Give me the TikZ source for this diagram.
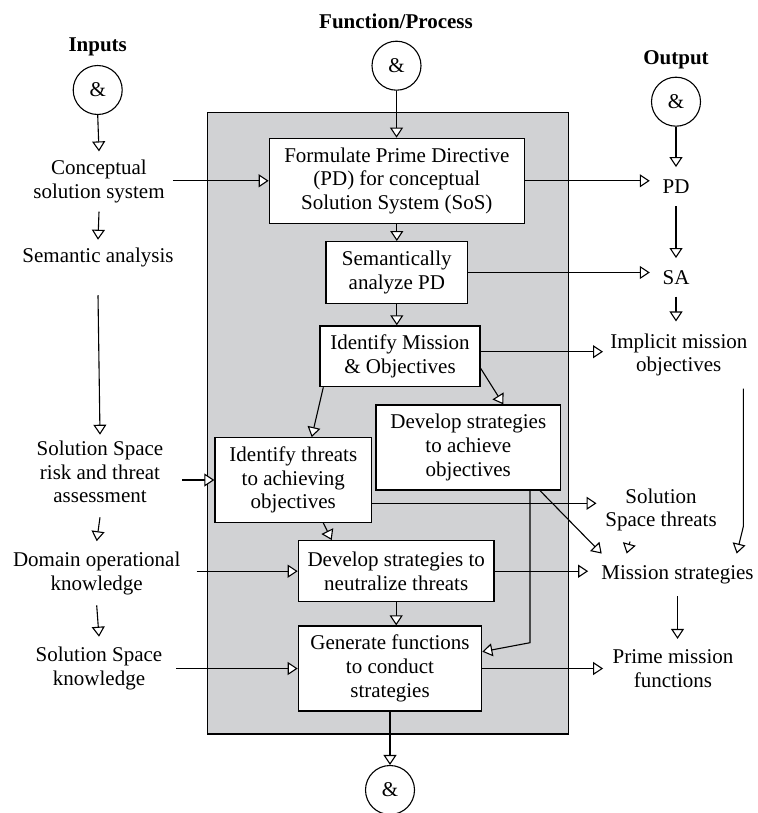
\documentclass[tikz,border=0pt]{standalone}
\usepackage{fontspec}
\setmainfont{Liberation Serif}
\usetikzlibrary{arrows.meta}
\definecolor{panelgray}{RGB}{209,210,212}
\begin{document}
\begin{tikzpicture}[x=1pt,y=-1pt,
  every node/.style={font=\fontsize{21}{23.7}\selectfont, inner sep=0pt},
  lbl/.style={align=center},
  hdr/.style={font=\fontsize{21}{23.7}\selectfont\bfseries},
  andc/.style={circle, draw, line width=1.1pt, minimum size=49pt, inner sep=0pt},
  box/.style={draw, fill=white, line width=1.3pt, align=center, inner sep=0pt},
  arr/.style={line width=1.1pt, -{Triangle[fill=white, length=10pt, width=13pt]}},
  ln/.style={line width=1.1pt},
]
\useasboundingbox (0,0) rectangle (757,813);

% panel
\node[draw, fill=panelgray, line width=1.3pt, minimum width=361pt, minimum height=621.3pt] (panel) at (387.8,423.35) {};

% headers and circles
\node[hdr] (hin) at (97.7,46.7) {Inputs};
\node[hdr] (hfp) at (396,21.7) {Function/Process};
\node[hdr] (hout) at (676,59.3) {Output};
\node[andc] (cin) at (97.7,90) {\&};
\node[andc] (cfp) at (396.5,65.7) {\&};
\node[andc] (cout) at (676,101.7) {\&};
\node[andc] (cbot) at (390,790) {\&};

% process boxes
\node[box, minimum width=255pt, minimum height=85pt] (form) at (396.8,180.8) {Formulate Prime Directive\\(PD) for conceptual\\Solution System (SoS)};
\node[box, minimum width=141.7pt, minimum height=61.6pt] (sema) at (396.8,272.5) {Semantically\\analyze PD};
\node[box, minimum width=160pt, minimum height=60.7pt] (idm) at (400,356.3) {Identify Mission\\\& Objectives};
\node[box, minimum width=184.7pt, minimum height=85pt] (dach) at (468.3,447.5) {Develop strategies\\to achieve\\objectives};
\node[box, minimum width=156.7pt, minimum height=84.6pt] (idt) at (293.3,480) {Identify threats\\to achieving\\objectives};
\node[box, minimum width=195.7pt, minimum height=61pt] (neut) at (396.2,571.2) {Develop strategies to\\neutralize threats};
\node[box, minimum width=183.4pt, minimum height=85pt] (gen) at (390,668.5) {Generate functions\\to conduct\\strategies};

% inputs
\node[lbl, inner xsep=8pt, inner ysep=8.5pt] (css) at (99,181.5) {Conceptual\\solution system};
\node[lbl, inner xsep=4pt, inner ysep=7.5pt] (sem) at (98,257) {Semantic analysis};
\node[lbl, inner xsep=19pt, inner ysep=6pt] (risk) at (100,472) {Solution Space\\risk and threat\\assessment};
\node[lbl, inner xsep=16pt, inner ysep=10.5pt] (dom) at (96.7,573.3) {Domain operational\\knowledge};
\node[lbl, inner xsep=13.7pt, inner ysep=10pt] (ssk) at (99,668.3) {Solution Space\\knowledge};

% outputs
\node[lbl, inner xsep=12.6pt, inner ysep=12.5pt] (pd) at (676,186.7) {PD};
\node[lbl, inner xsep=12.6pt, inner ysep=12pt] (sa) at (676,277.3) {SA};
\node[lbl, inner xsep=7pt, inner ysep=12pt] (imo) at (678.8,355) {Implicit mission\\objectives};
\node[lbl, inner xsep=8.6pt, inner ysep=10pt] (sst) at (661,510) {Solution\\Space threats};
\node[lbl, inner xsep=13pt, inner ysep=12pt] (ms) at (677.5,575) {Mission strategies};
\node[lbl, inner xsep=9.3pt, inner ysep=10.3pt] (pmf) at (673,668.3) {Prime mission\\functions};

% input column
\draw[arr] (cin.south) -- (css.north);
\draw[arr] (css.south) -- (sem.north);
\draw[arr] ([yshift=-21pt]sem.south) -- (risk.north);
\draw[arr] ([yshift=-8pt]risk.south) -- (dom.north);
\draw[arr] (dom.south) -- (ssk.north);

% inputs to process
\draw[arr] (form.west -| css.east) -- (form.west);
\draw[arr] (risk.east |- idt.west) -- (idt.west);
\draw[arr] (neut.west -| dom.east) -- (neut.west);
\draw[arr] (gen.west -| ssk.east) -- (gen.west);

% process flow
\draw[arr] (cfp.south) -- (cfp.south |- form.north);
\draw[arr] (form.south) -- (form.south |- sema.north);
\draw[arr] (sema.south) -- (sema.south |- idm.north);
\draw[arr] (idm.south -| 323.3,0) -- (idt.north -| 311.7,0);
\draw[arr] ([yshift=-12pt]idm.east) -- (dach.north -| 503.3,0);
\draw[arr] (idt.south -| 323.3,0) -- (neut.north -| 331.7,0);
\draw[arr] (neut.south) -- (neut.south |- gen.north);
\draw[arr] (dach.south -| 530,0) -- (530,642.7) -- ([yshift=16.8pt]gen.east);
\draw[arr] (gen.south) -- (cbot.north);

% process to outputs
\draw[arr] (form.east) -- (form.east -| pd.west);
\draw[arr] (sema.east) -- (sema.east -| sa.west);
\coordinate (a1) at ([yshift=4.6pt]idm.east);
\draw[arr] (a1) -- (a1 -| imo.west);
\coordinate (a2) at ([yshift=-23.3pt]idt.east);
\draw[arr] (a2) -- (a2 -| sst.west);
\draw[arr] (neut.east) -- (neut.east -| ms.west);
\draw[arr] (dach.south -| 540,0) -- (ms.north -| 601.7,0);
\draw[arr] (gen.east) -- (gen.east -| pmf.west);

% output column
\draw[arr] (cout.south) -- (pd.north);
\draw[arr] (pd.south) -- (sa.north);
\draw[arr] (sa.south) -- (sa.south |- imo.north);
\draw[arr] (imo.south -| 743.3,0) -- (743.3,526.7) -- (ms.north -| 736.7,0);
\draw[arr] (sst.south -| 630,0) -- (ms.north -| 626.7,0);
\draw[arr] (ms.south) -- (ms.south |- pmf.north);

\end{tikzpicture}
\end{document}
